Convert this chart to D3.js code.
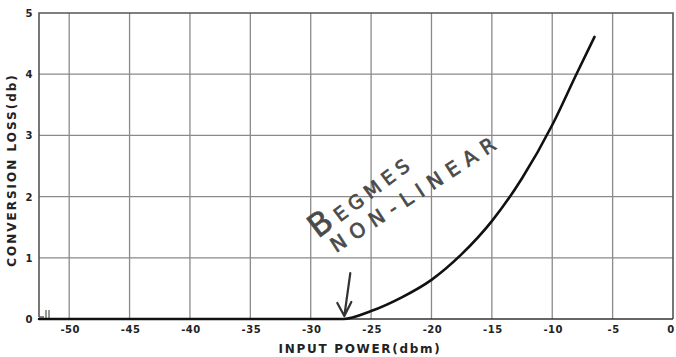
<!DOCTYPE html>
<html>
<head>
<meta charset="utf-8">
<script src="https://cdn.jsdelivr.net/npm/d3@7"></script>
<style>
  html, body { margin: 0; padding: 0; background: #fff; }
  svg { display: block; }
  .tick-label { font-family: "DejaVu Sans", sans-serif; font-weight: bold; fill: #222; }
  .axis-title { font-family: "DejaVu Sans", sans-serif; font-weight: bold; fill: #222; }
  .note { font-family: "DejaVu Sans", sans-serif; font-weight: normal; fill: #4a4a4a; stroke: #4a4a4a; stroke-width: 0.7; }
</style>
</head>
<body>
<svg id="chart" width="676" height="357"></svg>
<script>
// Input power (dBm) and measured conversion loss (dB)
const inputPower     = [-52.5, -27.3, -25, -22.5, -20, -17.5, -15, -12.5, -10, -8, -6.5];
const conversionLoss = [0, 0, 0.13, 0.35, 0.64, 1.06, 1.6, 2.3, 3.17, 4.0, 4.61];

const xTicks = [-50, -45, -40, -35, -30, -25, -20, -15, -10, -5, 0];
const xTickLabels = ["-50", "-45", "-40", "-35", "-30", "-25", "-20", "-15", "-10", "-5", "0"];
const yTicks = [0, 1, 2, 3, 4, 5];
const yTickLabels = ["0", "1", "2", "3", "4", "5"];

const xTitle = "INPUT POWER(dbm)";
const yTitle = "CONVERSION LOSS(db)";
const noteFirst = ["B", "EGMES"];
const noteSecond = "NON-LINEAR";
const onsetPower = -27.3;

const W = 676, H = 357;
const margin = { top: 13, right: 3, bottom: 38, left: 39 };

const svg = d3.select("#chart");

const x = d3.scaleLinear().domain([-52.5, 0]).range([margin.left, W - margin.right]);
const y = d3.scaleLinear().domain([0, 5]).range([H - margin.bottom, margin.top]);

// grid
const grid = svg.append("g");
grid.selectAll("line.v").data(xTicks.filter(d => d < 0)).join("line")
  .attr("x1", d => x(d)).attr("x2", d => x(d))
  .attr("y1", y(5)).attr("y2", y(0))
  .attr("stroke", "#8a8a8a").attr("stroke-width", 1.3);
grid.selectAll("line.h").data(yTicks.filter(d => d > 0 && d < 5)).join("line")
  .attr("x1", x(-52.5)).attr("x2", x(0))
  .attr("y1", d => y(d)).attr("y2", d => y(d))
  .attr("stroke", "#8a8a8a").attr("stroke-width", 1.3);

// frame: top, right, left (left stops short with a break mark)
svg.append("path")
  .attr("d", `M${x(-52.5)},${y(0) - 2} V${y(5)} H${x(0)} V${y(0)}`)
  .attr("fill", "none").attr("stroke", "#555").attr("stroke-width", 1.6);
svg.append("path")
  .attr("d", `M${x(-52.5)},${y(0) - 2} H${x(-52.5) + 5}`)
  .attr("fill", "none").attr("stroke", "#555").attr("stroke-width", 1.4);
svg.append("path")
  .attr("d", `M${x(-52.5) + 7},${y(0) - 9} V${y(0)} M${x(-52.5) + 10},${y(0) - 9} V${y(0)}`)
  .attr("fill", "none").attr("stroke", "#555").attr("stroke-width", 1.2);

// x axis baseline
svg.append("line")
  .attr("x1", x(-52.5) + 12).attr("x2", x(0))
  .attr("y1", y(0)).attr("y2", y(0))
  .attr("stroke", "#333").attr("stroke-width", 1.6);

// tick labels
svg.append("g").selectAll("text").data(xTicks).join("text")
  .attr("class", "tick-label")
  .attr("x", d => x(d) + (d === 0 ? -2 : 1))
  .attr("y", y(0) + 14)
  .attr("text-anchor", "middle")
  .attr("font-size", 10)
  .attr("letter-spacing", 0.5)
  .text((d, i) => xTickLabels[i]);

svg.append("g").selectAll("text").data(yTicks).join("text")
  .attr("class", "tick-label")
  .attr("x", 29)
  .attr("y", d => y(d) + 4)
  .attr("text-anchor", "middle")
  .attr("font-size", 10)
  .text((d, i) => yTickLabels[i]);

// axis titles
svg.append("text").attr("class", "axis-title")
  .attr("x", 360).attr("y", 353)
  .attr("text-anchor", "middle")
  .attr("font-size", 12).attr("letter-spacing", 1.7)
  .text(xTitle);

svg.append("text").attr("class", "axis-title")
  .attr("transform", `translate(16,170) rotate(-90)`)
  .attr("text-anchor", "middle")
  .attr("font-size", 12).attr("letter-spacing", 2)
  .text(yTitle);

// response curve
const line = d3.line().x((d, i) => x(inputPower[i])).y((d, i) => y(conversionLoss[i]))
  .curve(d3.curveMonotoneX);
svg.append("path")
  .datum(conversionLoss)
  .attr("d", line)
  .attr("fill", "none").attr("stroke", "#111").attr("stroke-width", 2.6)
  .attr("stroke-linecap", "round");

// hand-lettered note and arrow marking the onset of non-linearity
const ax = x(onsetPower), ay = y(0);
svg.append("path")
  .attr("d", `M${ax + 7},${ay - 46} L${ax + 1},${ay - 3} M${ax - 6},${ay - 16} L${ax + 1},${ay - 3} L${ax + 8},${ay - 17}`)
  .attr("fill", "none").attr("stroke", "#333").attr("stroke-width", 2.2)
  .attr("stroke-linecap", "round").attr("stroke-linejoin", "round");

const first = svg.append("text").attr("class", "note")
  .attr("transform", `translate(318,239) rotate(-37)`)
  .attr("font-size", 19).attr("letter-spacing", 5.5);
first.append("tspan").attr("font-size", 32).text(noteFirst[0]);
first.append("tspan").text(noteFirst[1]);

svg.append("text").attr("class", "note")
  .attr("transform", `translate(336,253) rotate(-33)`)
  .attr("font-size", 20).attr("letter-spacing", 7.5)
  .text(noteSecond);
</script>
</body>
</html>
